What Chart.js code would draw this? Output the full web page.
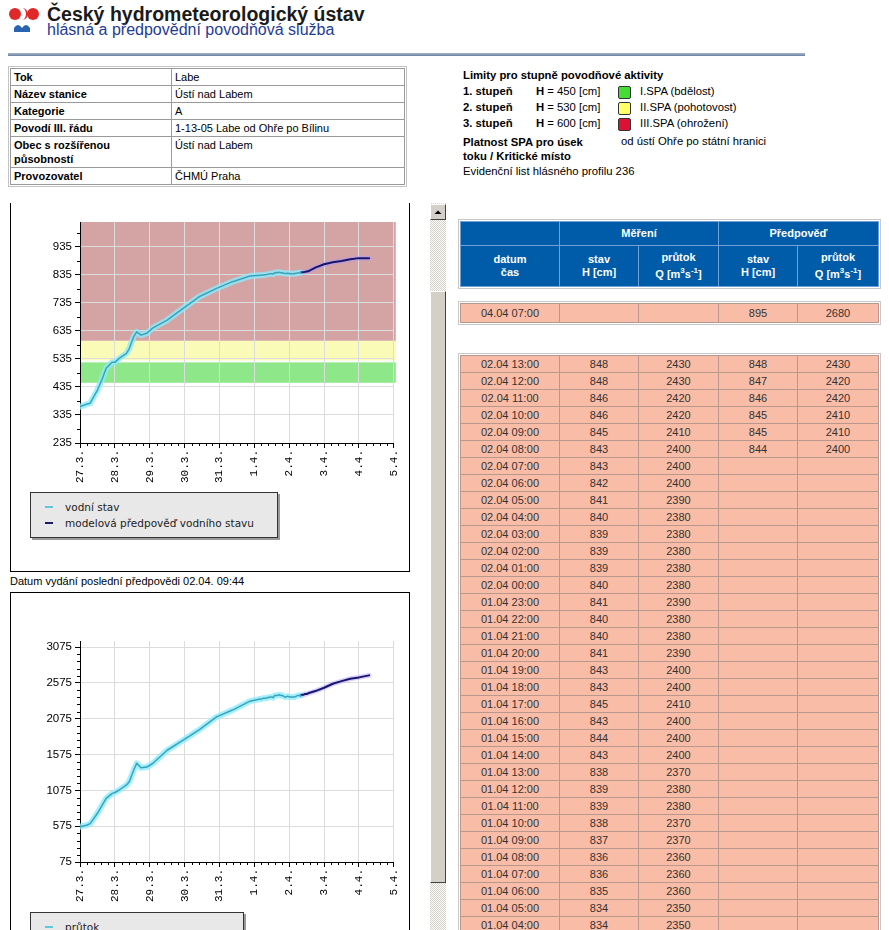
<!DOCTYPE html>
<html>
<head>
<meta charset="utf-8">
<script src="https://cdn.jsdelivr.net/npm/chart.js@4.4.1/dist/chart.umd.min.js"></script>
<style>
  body { margin: 0; width: 889px; height: 930px; overflow: hidden; position: relative; background: #fff;
         font-family: "Liberation Sans", Arial, sans-serif; font-size: 11px; color: #000; }
  .abs { position: absolute; white-space: nowrap; }
  .title { left: 47px; top: 3px; font-size: 19.5px; font-weight: bold; color: #1a1a1a; line-height: 22px; }
  .subtitle { left: 47px; top: 21px; font-size: 16px; color: #1e3c96; line-height: 18px; }
  .hline { left: 8px; top: 53px; width: 797px; height: 3px; background: linear-gradient(#a9b6ca, #6a80a3); }

  .info { left: 8px; top: 66px; border: 1px solid #c4c4c4; padding: 1px; }
  .info table { border-collapse: collapse; width: 395px; table-layout: fixed; }
  .info td { border: 1px solid #9a9a9a; padding: 1px 3px 0 3px; height: 15px; line-height: 14px; vertical-align: top; font-size: 11px; }
  .info td.l { font-weight: bold; width: 154px; white-space: normal; }

  .lim b { font-weight: bold; }
  .lim .abs { font-size: 11.3px; }
  .sq { width: 11px; height: 11px; border: 1px solid #333; border-radius: 2px; }

  .pane { left: 0; top: 203px; width: 430px; height: 727px; overflow: hidden; }
  .box { position: absolute; left: 10px; width: 400px; border: 1px solid #000; box-sizing: border-box; }
  .legend { position: absolute; left: 30px; background: #e8e8e8; border: 1px solid #333; box-shadow: 2px 2px 0 #9a9a9a;
            font-family: "DejaVu Sans", Verdana, sans-serif; font-size: 10.5px; box-sizing: border-box; }
  .legend .li { position: relative; height: 16px; line-height: 16px; padding-left: 34px; color: #222; }
  .legend .sw { position: absolute; left: 14px; top: 7px; width: 8px; height: 2px; }

  .sb { left: 430px; top: 203px; width: 16px; height: 727px;
        background: repeating-conic-gradient(#d4d0c8 0 25%, #ffffff 0 50%) 0 0 / 2px 2px; }
  .sbtn { left: 430px; top: 204px; width: 14px; height: 14px; background: #d4d0c8;
          border: 1px solid; border-color: #fff #404040 #404040 #fff; }
  .thumb { left: 430px; top: 291px; width: 14px; height: 590px; background: #d4d0c8;
           border: 1px solid; border-color: #fff #404040 #404040 #fff; }

  .wrap { position: absolute; left: 458px; border: 1px solid #c8c8c8; padding: 1px; }
  .wrap table { border-collapse: collapse; table-layout: fixed; width: 418px; }
  .hdr td { background: #005ca8; color: #fff; font-weight: bold; border: 1px solid #6e9fd6; text-align: center;
            padding: 0; font-size: 11px; line-height: 13px; }
  .grid td { background: #f9bca6; border: 1px solid #b8978c; text-align: center; padding: 0; height: 16px;
             line-height: 16px; font-size: 11px; color: #333; }
</style>
</head>
<body>

<svg class="abs" style="left:8px;top:4px" width="34" height="30" viewBox="0 0 34 30">
  <circle cx="7" cy="10" r="6" fill="#e02828"/>
  <path d="M14 4 a6 6 0 0 1 0 12 a4 6 0 0 0 0 -12z" fill="#e02828"/>
  <circle cx="25" cy="10" r="6" fill="#e02828"/>
  <path d="M6 24 q4 -6 8 0 q4 -6 8 0 l0 4 l-16 0z" fill="#2a64b0"/>
</svg>
<div class="abs title">Český hydrometeorologický ústav</div>
<div class="abs subtitle">hlásná a předpovědní povodňová služba</div>
<div class="abs hline"></div>

<div class="abs info">
  <table>
    <tr><td class="l">Tok</td><td>Labe</td></tr>
    <tr><td class="l">Název stanice</td><td>Ústí nad Labem</td></tr>
    <tr><td class="l">Kategorie</td><td>A</td></tr>
    <tr><td class="l">Povodí III. řádu</td><td>1-13-05 Labe od Ohře po Bílinu</td></tr>
    <tr><td class="l" style="height:29px">Obec s rozšířenou působností</td><td>Ústí nad Labem</td></tr>
    <tr><td class="l">Provozovatel</td><td>ČHMÚ Praha</td></tr>
  </table>
</div>

<div class="lim" id="lim"></div>

<div class="abs pane">
  <div class="box" style="top:-10px;height:379px"></div>
  <canvas id="chartH" width="398" height="280" style="position:absolute;left:11px;top:2px"></canvas>
  <div class="legend" style="top:289px;width:248px;height:46px;padding-top:6px">
    <div class="li"><span class="sw" style="background:#5cc8dc"></span>vodní stav</div>
    <div class="li"><span class="sw" style="background:#1a1a6a"></span>modelová předpověď vodního stavu</div>
  </div>
  <div class="abs" style="left:10px;top:372px;font-size:11px">Datum vydání poslední předpovědi 02.04. 09:44</div>
  <div class="box" style="top:389px;height:400px"></div>
  <canvas id="chartQ" width="398" height="311" style="position:absolute;left:11px;top:390px"></canvas>
  <div class="legend" style="top:709px;width:214px;height:40px;padding-top:6px">
    <div class="li"><span class="sw" style="background:#5cc8dc"></span>průtok</div>
  </div>
</div>

<div class="abs sb"></div>
<div class="abs sbtn"><svg width="14" height="14"><path d="M3.5 9 L7 5.5 L10.5 9z" fill="#000"/></svg></div>
<div class="abs thumb"></div>

<div class="wrap" style="top:219px">
  <table class="hdr">
    <colgroup><col style="width:99px"><col style="width:79px"><col style="width:80px"><col style="width:79px"><col style="width:81px"></colgroup>
    <tr style="height:24px"><td></td><td colspan="2">Měření</td><td colspan="2">Předpověď</td></tr>
    <tr style="height:41px"><td>datum<br>čas</td><td>stav<br>H [cm]</td><td>průtok<br>Q [m<sup style="font-size:8px">3</sup>s<sup style="font-size:8px">-1</sup>]</td>
      <td>stav<br>H [cm]</td><td>průtok<br>Q [m<sup style="font-size:8px">3</sup>s<sup style="font-size:8px">-1</sup>]</td></tr>
  </table>
</div>
<div class="wrap" style="top:301px">
  <table class="grid" id="peak">
    <colgroup><col style="width:99px"><col style="width:79px"><col style="width:80px"><col style="width:79px"><col style="width:81px"></colgroup>
  </table>
</div>
<div class="wrap" style="top:353px">
  <table class="grid" id="rows">
    <colgroup><col style="width:99px"><col style="width:79px"><col style="width:80px"><col style="width:79px"><col style="width:81px"></colgroup>
  </table>
</div>

<script>
// x axis days
var dayLabels = ['27.3.', '28.3.', '29.3.', '30.3.', '31.3.', '1.4.', '2.4.', '3.4.', '4.4.', '5.4.'];
// y axis labels
var hLabels = [235, 335, 435, 535, 635, 735, 835, 935];
var qLabels = [75, 575, 1075, 1575, 2075, 2575, 3075];

// flood activity limits
var limitSteps = ['1. stupeň', '2. stupeň', '3. stupeň'];
var limitLevels = [450, 530, 600];
var limitNames = ['I.SPA (bdělost)', 'II.SPA (pohotovost)', 'III.SPA (ohrožení)'];
var limitColors = ['#44dd33', '#ffff66', '#dd1133'];

// before the hourly table begins
var earlyTimes = ['27.03 00:00', '27.03 05:00', '27.03 07:00', '27.03 12:00', '27.03 15:00', '27.03 18:00',
                  '27.03 22:00', '28.03 00:00', '28.03 03:00', '28.03 08:00', '28.03 10:00', '28.03 13:00',
                  '28.03 15:00', '28.03 18:00', '28.03 22:00', '29.03 02:00', '29.03 12:00', '29.03 23:00',
                  '30.03 10:00', '30.03 22:00', '31.03 09:00', '31.03 21:00'];
var earlyH = [365, 374, 377, 424, 460, 502, 523, 523, 537, 555, 573, 615, 632, 620, 627, 645, 674, 716, 757, 787, 811, 831];
var earlyQ = [568, 591, 610, 755, 860, 964, 1030, 1045, 1080, 1150, 1200, 1359, 1452, 1390, 1400, 1450, 1635, 1775,
              1920, 2100, 2196, 2320];

// hourly table, newest first
var tableTimes = ['02.04 13:00', '02.04 12:00', '02.04 11:00', '02.04 10:00', '02.04 09:00', '02.04 08:00',
                  '02.04 07:00', '02.04 06:00', '02.04 05:00', '02.04 04:00', '02.04 03:00', '02.04 02:00',
                  '02.04 01:00', '02.04 00:00', '01.04 23:00', '01.04 22:00', '01.04 21:00', '01.04 20:00',
                  '01.04 19:00', '01.04 18:00', '01.04 17:00', '01.04 16:00', '01.04 15:00', '01.04 14:00',
                  '01.04 13:00', '01.04 12:00', '01.04 11:00', '01.04 10:00', '01.04 09:00', '01.04 08:00',
                  '01.04 07:00', '01.04 06:00', '01.04 05:00', '01.04 04:00'];
var tableH = [848, 848, 846, 846, 845, 843, 843, 842, 841, 840, 839, 839, 839, 840, 841, 840, 840, 841,
              843, 843, 845, 843, 844, 843, 838, 839, 839, 838, 837, 836, 836, 835, 834, 834];
var tableQ = [2430, 2430, 2420, 2420, 2410, 2400, 2400, 2400, 2390, 2380, 2380, 2380, 2380, 2380, 2390, 2380, 2380, 2390,
              2400, 2400, 2410, 2400, 2400, 2400, 2370, 2380, 2380, 2370, 2370, 2360, 2360, 2360, 2350, 2350];
var fcTableH = [848, 847, 846, 845, 845, 844];
var fcTableQ = [2430, 2420, 2420, 2410, 2410, 2400];

// forecast maximum
var peakTime = '04.04 07:00';
var peakH = 895;
var peakQ = 2680;

var fcLateTimes = ['02.04 18:00', '03.04 00:00', '03.04 06:00', '03.04 12:00', '03.04 18:00', '04.04 00:00'];
var fcLateH = [861, 873, 880, 885, 891, 895];
var fcLateQ = [2461, 2507, 2563, 2600, 2633, 2652];

// 'DD.MM HH:MM' -> hours after 27.3. 00:00
function hoursOf(s) {
  var d = +s.substr(0, 2), m = +s.substr(3, 2), h = +s.substr(6, 2);
  return ((m === 3 ? d - 27 : d + 4) * 24) + h;
}

// limits legend
var lim = '<div class="abs" style="left:463px;top:69px"><b>Limity pro stupně povodňové aktivity</b></div>';
for (var i = 0; i < limitLevels.length; i++) {
  var t = 85 + i * 16;
  lim += '<div class="abs" style="left:463px;top:' + t + 'px"><b>' + limitSteps[i] + '</b></div>' +
         '<div class="abs" style="left:536px;top:' + t + 'px"><b>H</b> = ' + limitLevels[i] + ' [cm]</div>' +
         '<div class="abs sq" style="left:618px;top:' + (t + 1) + 'px;background:' + limitColors[i] + '"></div>' +
         '<div class="abs" style="left:640px;top:' + t + 'px">' + limitNames[i] + '</div>';
}
lim += '<div class="abs" style="left:463px;top:135px;line-height:14px"><b>Platnost SPA pro úsek<br>toku / Kritické místo</b></div>' +
       '<div class="abs" style="left:621px;top:135px">od ústí Ohře po státní hranici</div>' +
       '<div class="abs" style="left:463px;top:165px">Evidenční list hlásného profilu 236</div>';
document.getElementById('lim').innerHTML = lim;

// tables
document.getElementById('peak').insertAdjacentHTML('beforeend',
  '<tr style="height:19px"><td>' + peakTime + '</td><td></td><td></td><td>' + peakH + '</td><td>' + peakQ + '</td></tr>');
var rows = '';
for (var i = 0; i < tableTimes.length; i++) {
  rows += '<tr><td>' + tableTimes[i] + '</td><td>' + tableH[i] + '</td><td>' + tableQ[i] + '</td><td>' +
          (i < fcTableH.length ? fcTableH[i] : '') + '</td><td>' + (i < fcTableQ.length ? fcTableQ[i] : '') + '</td></tr>';
}
document.getElementById('rows').insertAdjacentHTML('beforeend', rows);

// series for the charts
function seriesOf(early, table, fcTable, fcLate, peak) {
  var fcStart = hoursOf(tableTimes[fcTable.length - 1]);
  var measured = [], forecast = [];
  for (var i = 0; i < earlyTimes.length; i++) measured.push({x: hoursOf(earlyTimes[i]), y: early[i]});
  for (var i = tableTimes.length - 1; i >= 0; i--) {
    if (hoursOf(tableTimes[i]) <= fcStart) measured.push({x: hoursOf(tableTimes[i]), y: table[i]});
  }
  for (var i = fcTable.length - 1; i >= 0; i--) forecast.push({x: hoursOf(tableTimes[i]), y: fcTable[i]});
  for (var i = 0; i < fcLateTimes.length; i++) forecast.push({x: hoursOf(fcLateTimes[i]), y: fcLate[i]});
  forecast.push({x: hoursOf(peakTime), y: peak});
  return {measured: measured, forecast: forecast};
}

// coloured SPA bands behind the grid
var bandPlugin = {
  id: 'bands',
  beforeDraw: function(chart, args, opts) {
    if (!opts.levels) return;
    var ctx = chart.ctx, a = chart.chartArea, y = chart.scales.y;
    var fills = ['#8ee88a', '#fbfbb8', '#d4a4a4'];
    ctx.save();
    for (var i = 0; i < opts.levels.length; i++) {
      var bottom = y.getPixelForValue(opts.levels[i]);
      var top = i + 1 < opts.levels.length ? y.getPixelForValue(opts.levels[i + 1]) : a.top;
      if (i === 0) top += 2;
      ctx.fillStyle = fills[i];
      ctx.fillRect(a.left, top, a.right - a.left + 2, bottom - top);
    }
    ctx.restore();
  }
};

// short minor ticks (the library gives every tick the same length)
var minorTickPlugin = {
  id: 'minorTicks',
  afterDraw: function(chart) {
    var ctx = chart.ctx, a = chart.chartArea;
    ctx.save();
    ctx.strokeStyle = '#000';
    ctx.lineWidth = 1;
    ctx.beginPath();
    chart.scales.x.ticks.forEach(function(t, i) {
      if (i % 5 === 0) return;
      var px = Math.round(chart.scales.x.getPixelForValue(t.value)) + 0.5;
      ctx.moveTo(px, a.bottom);
      ctx.lineTo(px, a.bottom + 3);
    });
    chart.scales.y.ticks.forEach(function(t) {
      if (t.label !== '') return;
      var py = Math.round(chart.scales.y.getPixelForValue(t.value)) + 0.5;
      ctx.moveTo(a.left - 3, py);
      ctx.lineTo(a.left, py);
    });
    ctx.stroke();
    ctx.restore();
  }
};

Chart.defaults.font.family = '"Liberation Sans", Arial, sans-serif';
Chart.defaults.color = '#000';

function buildChart(canvasId, series, labels, yMax, minorStep, padTop, levels) {
  var yMin = labels[0];
  return new Chart(document.getElementById(canvasId), {
    type: 'line',
    data: {
      datasets: [
        {data: series.measured, borderColor: '#3aa3b8', borderWidth: 1.5},
        {data: series.forecast, borderColor: '#16166e', borderWidth: 2},
        {data: series.measured, borderColor: 'rgba(140,235,252,0.8)', borderWidth: 6},
        {data: series.forecast, borderColor: 'rgba(175,150,255,0.45)', borderWidth: 5}
      ]
    },
    options: {
      responsive: false,
      animation: false,
      elements: {point: {radius: 0}, line: {tension: 0, borderJoinStyle: 'round', borderCapStyle: 'round'}},
      layout: {padding: {top: padTop, right: 14, left: 0, bottom: 0}},
      plugins: {legend: {display: false}, tooltip: {enabled: false}, bands: {levels: levels}},
      scales: {
        x: {
          type: 'linear', min: 0, max: (dayLabels.length - 1) * 24,
          afterBuildTicks: function(scale) {
            var t = [];
            for (var i = 0; i <= (dayLabels.length - 1) * 5; i++) t.push({value: i * 24 / 5});
            scale.ticks = t;
          },
          afterFit: function(scale) { scale.height = 42; },
          ticks: {
            autoSkip: false, minRotation: 90, maxRotation: 90, padding: 2,
            font: {family: '"Liberation Mono", monospace', size: 11},
            callback: function(v, i) { return i % 5 === 0 ? dayLabels[i / 5] : ''; }
          },
          grid: {
            color: function(c) { return c.index % 5 === 0 ? '#dcdcdc' : 'rgba(0,0,0,0)'; },
            tickColor: function(c) { return c.index % 5 === 0 ? '#000' : 'rgba(0,0,0,0)'; },
            tickLength: 5
          },
          border: {color: '#000', width: 1}
        },
        y: {
          min: yMin, max: yMax,
          afterBuildTicks: function(scale) {
            var t = [];
            for (var v = yMin; v <= yMax; v += minorStep) t.push({value: v});
            scale.ticks = t;
          },
          afterFit: function(scale) { scale.width = 69; },
          ticks: {
            autoSkip: false, padding: 3, font: {size: 11.5},
            callback: function(v) { return labels.indexOf(v) >= 0 ? String(v) : ''; }
          },
          grid: {
            color: function(c) { return c.tick && labels.indexOf(c.tick.value) >= 0 ? '#dcdcdc' : 'rgba(0,0,0,0)'; },
            tickColor: function(c) { return c.tick && labels.indexOf(c.tick.value) >= 0 ? '#000' : 'rgba(0,0,0,0)'; },
            tickLength: 5
          },
          border: {color: '#000', width: 1}
        }
      }
    },
    plugins: [bandPlugin, minorTickPlugin]
  });
}

buildChart('chartH', seriesOf(earlyH, tableH, fcTableH, fcLateH, peakH), hLabels, 1024, 50, 17, limitLevels);
buildChart('chartQ', seriesOf(earlyQ, tableQ, fcTableQ, fcLateQ, peakQ), qLabels, 3160, 100, 48, null);
</script>
</body>
</html>
